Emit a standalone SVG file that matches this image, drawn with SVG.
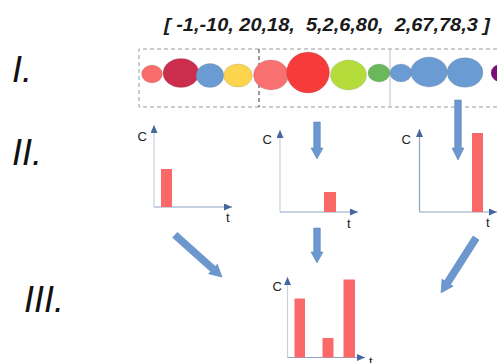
<svg xmlns="http://www.w3.org/2000/svg" width="497" height="363" viewBox="0 0 497 363">
<style>
.roman{font-family:"Liberation Sans",Arial,sans-serif;font-style:italic;font-size:36px;fill:#111}
.title{font-family:"Liberation Sans",Arial,sans-serif;font-style:italic;font-weight:bold;font-size:19px;fill:#1a1a1a;white-space:pre}
.lbl{font-family:"Liberation Sans",Arial,sans-serif;font-size:13px;fill:#222}
.yax{stroke:#c9d1dd;stroke-width:1.2;fill:none}
.xax{stroke:#8fa2bd;stroke-width:1.2;fill:none}
.bar{fill:#fb6868}
.big{fill:#6c98cf;stroke:#5b86bb;stroke-width:0.6}
.c{stroke:#7a7a7a;stroke-opacity:0.35;stroke-width:0.6}
</style>
<defs>
<marker id="ah" viewBox="0 0 8 7" refX="8" refY="3.5" markerWidth="8" markerHeight="7" markerUnits="userSpaceOnUse" orient="auto">
<path d="M0,0 L8,3.5 L0,7 z" fill="#44679d"/>
</marker>
</defs>
<rect width="497" height="363" fill="#ffffff"/>

<g id="title">
<text class="title" x="164" y="31" textLength="326" lengthAdjust="spacingAndGlyphs">[ -1,-10, 20,18,  5,2,6,80,  2,67,78,3 ]</text>
</g>

<g id="labels">
<text class="roman" x="12" y="82">I.</text>
<text class="roman" x="12" y="165">II.</text>
<text class="roman" x="24" y="312">III.</text>
</g>

<g id="stream">
<path d="M497,49 H139 V107 H497" fill="none" stroke="#9a9a9a" stroke-width="1" stroke-dasharray="4,3"/>
<line x1="259" y1="49" x2="259" y2="107" stroke="#333" stroke-width="1" stroke-dasharray="4,3"/>
<line x1="390" y1="49" x2="390" y2="107" stroke="#b9c3cf" stroke-width="1"/>
<ellipse class="c" cx="152" cy="74" rx="10.5" ry="9" fill="#f86c6c"/>
<ellipse class="c" cx="181" cy="73" rx="18" ry="14.5" fill="#cc2d4d"/>
<ellipse class="c" cx="210" cy="75.5" rx="13.8" ry="12" fill="#6a9bd2"/>
<ellipse class="c" cx="238" cy="75.5" rx="14.3" ry="11.5" fill="#fcd44e"/>
<ellipse class="c" cx="271" cy="75" rx="17.5" ry="15" fill="#f87070"/>
<ellipse class="c" cx="308" cy="72.5" rx="21.5" ry="20.5" fill="#f73a3a"/>
<ellipse class="c" cx="348.5" cy="75" rx="18" ry="15" fill="#b4dc3a"/>
<ellipse class="c" cx="379" cy="73" rx="11" ry="9" fill="#6ab85a"/>
<ellipse class="c" cx="401" cy="73" rx="11" ry="9" fill="#6a9bd2"/>
<ellipse class="c" cx="429" cy="72" rx="18.3" ry="15" fill="#6a9bd2"/>
<ellipse class="c" cx="465" cy="72.5" rx="18" ry="14.8" fill="#6a9bd2"/>
<ellipse class="c" cx="500" cy="73" rx="9" ry="8.5" fill="#7a0b7c"/>
</g>

<g id="chart1">
<line class="yax" x1="154" y1="207" x2="154" y2="125" marker-end="url(#ah)"/>
<line class="xax" x1="154" y1="207" x2="232" y2="207" marker-end="url(#ah)"/>
<rect class="bar" x="161" y="169" width="11" height="38"/>
<text class="lbl" x="137.5" y="141">C</text>
<text class="lbl" x="226" y="222">t</text>
</g>

<g id="chart2">
<line class="yax" x1="280" y1="212" x2="280" y2="130" marker-end="url(#ah)"/>
<line class="xax" x1="280" y1="212" x2="358" y2="212" marker-end="url(#ah)"/>
<rect class="bar" x="324" y="192" width="12" height="20"/>
<text class="lbl" x="262.5" y="144">C</text>
<text class="lbl" x="347" y="228">t</text>
</g>

<g id="chart3">
<line class="xax" x1="419.5" y1="212" x2="419.5" y2="129" marker-end="url(#ah)"/>
<line class="xax" x1="419.5" y1="212" x2="497" y2="212" marker-end="url(#ah)"/>
<rect class="bar" x="472" y="133" width="11" height="79"/>
<text class="lbl" x="401.5" y="144">C</text>
<text class="lbl" x="486" y="227">t</text>
</g>

<g id="result">
<line class="yax" x1="287.5" y1="357.5" x2="287.5" y2="277" marker-end="url(#ah)"/>
<line class="xax" x1="287.5" y1="357.5" x2="365" y2="357.5" marker-end="url(#ah)"/>
<rect class="bar" x="294.5" y="298.5" width="10.5" height="59"/>
<rect class="bar" x="322.5" y="338" width="11" height="19.5"/>
<rect class="bar" x="343.5" y="279.5" width="11.5" height="78"/>
<text class="lbl" x="272.5" y="291">C</text>
<text class="lbl" x="369" y="366">t</text>
</g>

<g id="connectors">
<path class="big" transform="translate(317,122) rotate(90)" d="M0,-3.3 H26 V-6 L37,0 L26,6 V3.3 H0 Z"/>
<path class="big" transform="translate(458,100) rotate(90)" d="M0,-3.3 H48 V-6 L60,0 L48,6 V3.3 H0 Z"/>
<path class="big" transform="translate(317,228) rotate(90)" d="M0,-3.3 H24 V-6 L35,0 L24,6 V3.3 H0 Z"/>
<path class="big" transform="translate(175,235) rotate(41.8)" d="M0,-3.5 H51 V-6.5 L63,0 L51,6.5 V3.5 H0 Z"/>
<path class="big" transform="translate(476,238) rotate(122.5)" d="M0,-3.5 H53 V-6.5 L65,0 L53,6.5 V3.5 H0 Z"/>
</g>
</svg>
